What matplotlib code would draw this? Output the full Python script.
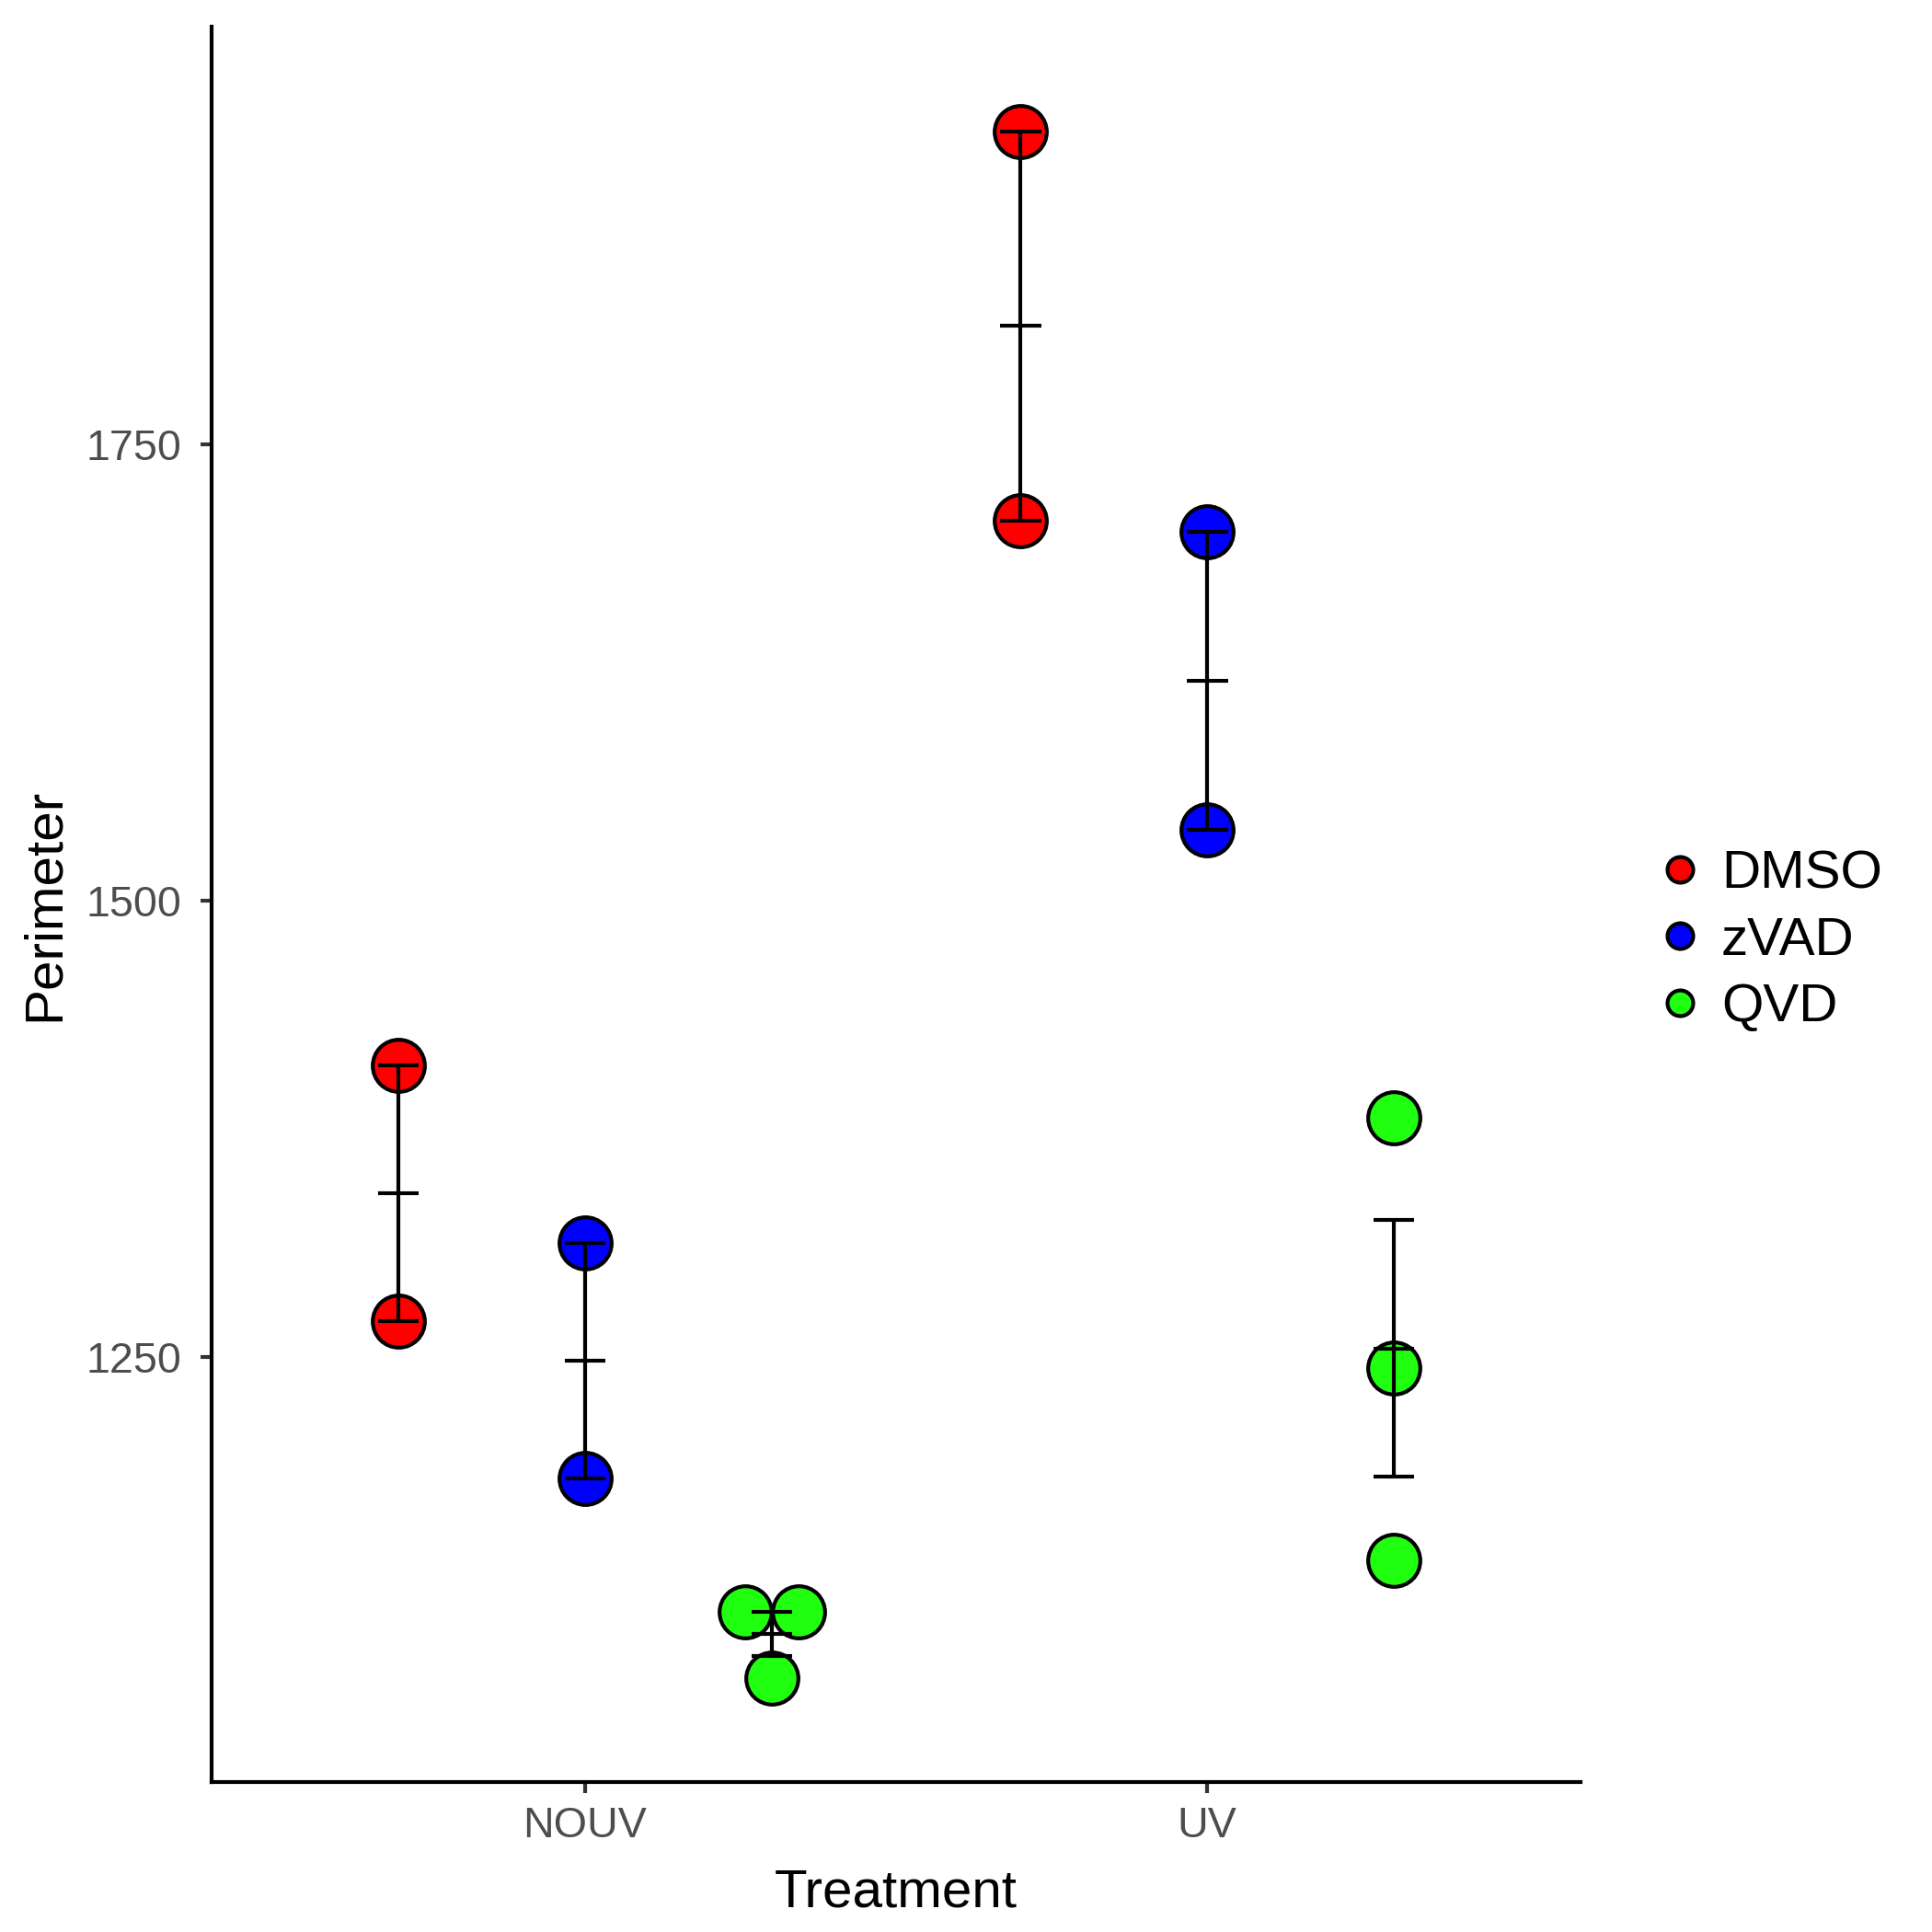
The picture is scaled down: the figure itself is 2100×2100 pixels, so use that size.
import numpy as np
import matplotlib
matplotlib.use("Agg")
import matplotlib.pyplot as plt
from matplotlib.lines import Line2D

# ============================================================
# data (Perimeter per replicate)
# ============================================================
TREATMENTS = ["NOUV", "UV"]
DRUGS      = ["DMSO", "zVAD", "QVD"]
COLORS     = ["#FF0000", "#0000FF", "#20FF10"]

nouv_dmso = [1409.5, 1269.6]
nouv_zvad = [1312.2, 1183.1]
nouv_qvd  = [1110.0, 1110.0, 1073.6]
uv_dmso   = [1921.6, 1708.1]
uv_zvad   = [1702.0, 1538.5]
uv_qvd    = [1381.1, 1243.9, 1138.5]

Y_TICKS = [1250, 1500, 1750]
# ============================================================

GROUPS = {
    ("NOUV", "DMSO"): nouv_dmso,
    ("NOUV", "zVAD"): nouv_zvad,
    ("NOUV", "QVD"):  nouv_qvd,
    ("UV",   "DMSO"): uv_dmso,
    ("UV",   "zVAD"): uv_zvad,
    ("UV",   "QVD"):  uv_qvd,
}

DODGE      = 0.3      # offset between drug groups
STACK_STEP = 0.086    # side-by-side spacing for tied values (dotplot style)
HALF_W     = 0.033    # half-width of error bar caps / mean tick

plt.rcParams["font.family"] = ["Liberation Sans", "DejaVu Sans"]

fig = plt.figure(figsize=(7, 7), dpi=300)
ax = fig.add_axes([0.1096, 0.0774, 0.7085, 0.9086])

for i, trt in enumerate(TREATMENTS):
    for j, (drug, col) in enumerate(zip(DRUGS, COLORS)):
        vals = np.asarray(GROUPS[(trt, drug)], dtype=float)
        xc = (i + 1) + (j - 1) * DODGE

        # stack tied values side by side, like geom_dotplot(stackdir="center")
        xs = np.full(len(vals), xc)
        for v in np.unique(vals):
            idx = np.where(vals == v)[0]
            xs[idx] = xc + (np.arange(len(idx)) - (len(idx) - 1) / 2) * STACK_STEP
        ax.scatter(xs, vals, s=13.6 ** 2, c=col, edgecolors="black",
                   linewidths=1.0, zorder=2)

        # mean +/- standard error, plus a tick at the mean
        m  = vals.mean()
        se = vals.std(ddof=1) / np.sqrt(len(vals))
        kw = dict(color="black", linewidth=1.0, zorder=3)
        ax.vlines(xc, m - se, m + se, **kw)
        ax.hlines([m - se, m + se, m], xc - HALF_W, xc + HALF_W, **kw)

ax.set_xlim(0.4, 2.6)
ax.set_ylim(1016.6, 1978.7)
ax.set_xticks([1, 2])
ax.set_xticklabels(TREATMENTS)
ax.set_yticks(Y_TICKS)

for side in ("top", "right"):
    ax.spines[side].set_visible(False)
for side in ("left", "bottom"):
    ax.spines[side].set_linewidth(1.0)
    ax.spines[side].set_color("black")

ax.tick_params(axis="both", length=2.9, width=1.0, color="#333333",
               labelsize=11.2, labelcolor="#4D4D4D")
ax.tick_params(axis="y", pad=5.0)
ax.tick_params(axis="x", pad=3.3)

ax.set_xlabel("Treatment", fontsize=14, labelpad=5.6)
ax.set_ylabel("Perimeter", fontsize=14, labelpad=4.2)

handles = [Line2D([], [], linestyle="none", marker="o", markersize=6.7,
                  markerfacecolor=c, markeredgecolor="black", markeredgewidth=1.0)
           for c in COLORS]
fig.legend(handles, DRUGS, loc="center left", bbox_to_anchor=(0.846, 0.513),
           frameon=False, fontsize=14, handlelength=0.9, handletextpad=0.32,
           labelspacing=0.32, borderaxespad=0)

fig.savefig("out.png", dpi=300)
